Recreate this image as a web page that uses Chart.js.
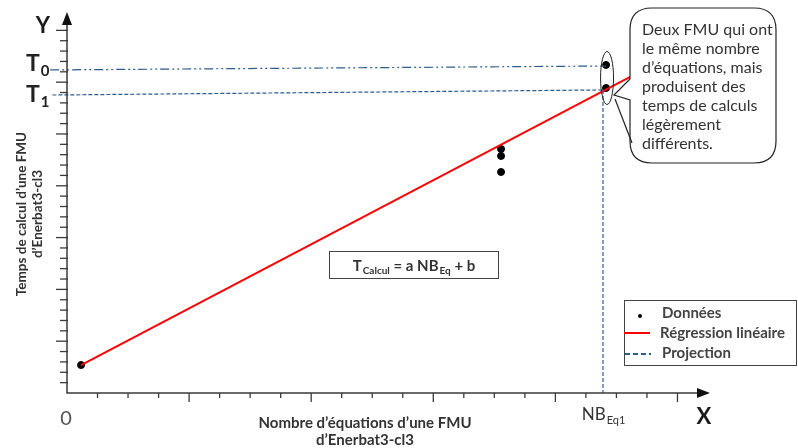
<!DOCTYPE html>
<html>
<head>
<meta charset="utf-8">
<script src="https://cdn.jsdelivr.net/npm/chart.js@4"></script>
<style>
  body { margin: 0; background: #fff; }
  #wrap { width: 798px; height: 448px; }
</style>
</head>
<body>
<div id="wrap"><canvas id="myChart"></canvas></div>
<script>
// points (x = number of equations, y = computing time), arbitrary units
const ptsX = [0.46, 14.22, 14.22, 14.22, 17.66, 17.66];
const ptsY = [2.7, 23.55, 22.88, 21.33, 31.66, 29.44];
// regression line
const regX = [0.46, 18.45];
const regY = [2.7, 30.5];
// projection lines
const t0X = [-0.55, 17.66];
const t0Y = [31.18, 31.56];
const t1X = [-0.48, 17.56];
const t1Y = [28.76, 29.25];
const projX = [17.56, 17.56];
const projY = [29.25, 0];

const legendLabels = ['Données', 'Régression linéaire', 'Projection'];
const calloutLines = ['Deux FMU qui ont', 'le même nombre', 'd\u2019équations, mais',
  'produisent des', 'temps de calculs', 'légèrement', 'différents.'];
const xTitle = ['Nombre d\u2019équations d\u2019une FMU', 'd\u2019Enerbat3-cl3'];
const yTitle = ['Temps de calcul d\u2019une FMU', 'd\u2019Enerbat3-cl3'];

const blue = '#2f5d8a';
const FONT = 'Lato, "Open Sans", sans-serif';

const toXY = (xs, ys) => xs.map((x, i) => ({x: x, y: ys[i]}));

function subWidth(ctx, main, sub, size, subSize, weight) {
  ctx.font = weight + ' ' + size + 'px ' + FONT;
  const w1 = ctx.measureText(main).width;
  ctx.font = weight + ' ' + subSize + 'px ' + FONT;
  return w1 + ctx.measureText(sub).width + 1;
}

function subText(ctx, x, y, main, sub, size, subSize, weight, color, align) {
  ctx.font = weight + ' ' + size + 'px ' + FONT;
  const w1 = ctx.measureText(main).width;
  ctx.font = weight + ' ' + subSize + 'px ' + FONT;
  const w2 = ctx.measureText(sub).width;
  let sx = x;
  if (align === 'center') sx = x - (w1 + w2) / 2;
  ctx.fillStyle = color;
  ctx.textAlign = 'left';
  ctx.textBaseline = 'alphabetic';
  ctx.font = weight + ' ' + size + 'px ' + FONT;
  ctx.fillText(main, sx, y);
  ctx.font = weight + ' ' + subSize + 'px ' + FONT;
  ctx.fillText(sub, sx + w1 + 1, y + size * 0.22);
  return sx + w1 + w2 + 1;
}

const decor = {
  id: 'decor',
  afterDraw(chart) {
    const ctx = chart.ctx;
    const xs = chart.scales.x, ys = chart.scales.y;
    const x0 = xs.getPixelForValue(0), y0 = ys.getPixelForValue(0);
    ctx.save();
    ctx.strokeStyle = '#3a3a3a';
    ctx.fillStyle = '#111';
    ctx.lineWidth = 1.5;
    // axes
    ctx.beginPath();
    ctx.moveTo(x0, ys.top + 4); ctx.lineTo(x0, y0);
    ctx.lineTo(xs.right - 6, y0);
    ctx.stroke();
    ctx.beginPath();
    ctx.moveTo(x0, ys.top - 8); ctx.lineTo(x0 - 5, ys.top + 5); ctx.lineTo(x0 + 5, ys.top + 5); ctx.closePath();
    ctx.fill();
    ctx.beginPath();
    ctx.moveTo(xs.right + 2, y0); ctx.lineTo(xs.right - 11, y0 - 5); ctx.lineTo(xs.right - 11, y0 + 5); ctx.closePath();
    ctx.fill();
    // tick marks
    ctx.lineWidth = 1.3;
    xs.ticks.forEach(t => {
      if (t.value <= 0 || t.value > 20) return;
      const px = xs.getPixelForValue(t.value);
      const len = t.value % 4 === 0 ? 9 : 5;
      ctx.beginPath(); ctx.moveTo(px, y0); ctx.lineTo(px, y0 + len); ctx.stroke();
    });
    ys.ticks.forEach(t => {
      if (t.value <= 0 || t.value > 35) return;
      const py = ys.getPixelForValue(t.value);
      const len = t.value % 5 === 0 ? 11 : 7;
      ctx.beginPath(); ctx.moveTo(x0 - len, py); ctx.lineTo(x0 + 1, py); ctx.stroke();
    });

    // axis letters
    ctx.fillStyle = '#1a1a1a';
    ctx.textAlign = 'center';
    ctx.textBaseline = 'alphabetic';
    ctx.font = 'bold 22px ' + FONT;
    ctx.fillText('Y', 43, 33);
    ctx.fillText('X', 704, 424);
    ctx.font = '20px ' + FONT;
    ctx.fillStyle = '#555';
    ctx.fillText('0', x0 - 1, 425);
    subText(ctx, 26, 71, 'T', '0', 23, 15, 'bold', '#222', 'left');
    subText(ctx, 26, 102, 'T', '1', 23, 15, 'bold', '#222', 'left');
    subText(ctx, 603, 420, 'NB', 'Eq1', 17, 11, '400', '#333', 'center');

    // axis titles
    ctx.fillStyle = '#333';
    ctx.font = 'bold 15px ' + FONT;
    ctx.textAlign = 'center';
    ctx.fillText(xTitle[0], 365, 428);
    ctx.fillText(xTitle[1], 365, 445);
    ctx.font = 'bold 13.5px ' + FONT;
    ctx.save();
    ctx.translate(26, 214);
    ctx.rotate(-Math.PI / 2);
    ctx.fillText(yTitle[0], 0, 0);
    ctx.fillText(yTitle[1], 0, 16);
    ctx.restore();

    // ellipse around the two points
    ctx.strokeStyle = '#222';
    ctx.lineWidth = 1;
    ctx.beginPath();
    ctx.ellipse(xs.getPixelForValue(ptsX[4]) + 1, 78, 6.5, 26.5, 0, 0, Math.PI * 2);
    ctx.stroke();

    // callout
    const bx = 630, by = 8, bw = 146, bh = 155, r = 22;
    ctx.beginPath();
    ctx.moveTo(bx + r, by);
    ctx.lineTo(bx + bw - r, by); ctx.quadraticCurveTo(bx + bw, by, bx + bw, by + r);
    ctx.lineTo(bx + bw, by + bh - r); ctx.quadraticCurveTo(bx + bw, by + bh, bx + bw - r, by + bh);
    ctx.lineTo(bx + r, by + bh); ctx.quadraticCurveTo(bx, by + bh, bx, by + bh - r);
    ctx.lineTo(bx, 100);
    ctx.lineTo(614, 95);
    ctx.lineTo(bx, 79);
    ctx.lineTo(bx, by + r); ctx.quadraticCurveTo(bx, by, bx + r, by);
    ctx.closePath();
    ctx.fillStyle = '#fff';
    ctx.fill();
    ctx.strokeStyle = '#222';
    ctx.lineWidth = 1.2;
    ctx.stroke();
    ctx.beginPath(); ctx.moveTo(615, 99); ctx.lineTo(632, 143); ctx.stroke();
    ctx.fillStyle = '#333';
    ctx.font = '16px ' + FONT;
    ctx.textAlign = 'left';
    calloutLines.forEach((l, i) => ctx.fillText(l, 642, 35 + i * 19));

    // equation box
    ctx.strokeStyle = '#444';
    ctx.lineWidth = 1;
    ctx.strokeRect(329.5, 251.5, 169, 27);
    ctx.font = 'bold 15px ' + FONT;
    const wEq = subWidth(ctx, 'T', 'Calcul', 15, 10, 'bold') + subWidth(ctx, 'NB', 'Eq', 15, 10, 'bold')
      + (ctx.font = 'bold 15px ' + FONT, ctx.measureText(' = a ').width + ctx.measureText(' + b').width);
    let ex = subText(ctx, 414 - wEq / 2, 271, 'T', 'Calcul', 15, 10, 'bold', '#333', 'left');
    ctx.font = 'bold 15px ' + FONT;
    ctx.fillText(' = a ', ex, 271);
    ex += ctx.measureText(' = a ').width;
    ex = subText(ctx, ex, 271, 'NB', 'Eq', 15, 10, 'bold', '#333', 'left');
    ctx.font = 'bold 15px ' + FONT;
    ctx.fillText(' + b', ex, 271);

    // legend
    ctx.strokeStyle = '#444';
    ctx.strokeRect(624.5, 300.5, 172, 65);
    ctx.fillStyle = '#000';
    ctx.beginPath(); ctx.arc(640, 316, 2, 0, Math.PI * 2); ctx.fill();
    ctx.strokeStyle = '#ff0000'; ctx.lineWidth = 2;
    ctx.beginPath(); ctx.moveTo(624, 333); ctx.lineTo(650, 333); ctx.stroke();
    ctx.strokeStyle = blue; ctx.lineWidth = 2; ctx.setLineDash([5, 3]);
    ctx.beginPath(); ctx.moveTo(625, 354); ctx.lineTo(651, 354); ctx.stroke();
    ctx.setLineDash([]);
    ctx.fillStyle = '#444';
    ctx.font = 'bold 15px ' + FONT;
    ctx.fillText(legendLabels[0], 662, 318);
    ctx.fillText(legendLabels[1], 660, 338);
    ctx.fillText(legendLabels[2], 662, 358);
    ctx.restore();
  }
};

new Chart(document.getElementById('myChart'), {
  type: 'scatter',
  data: {
    datasets: [
      {
        label: legendLabels[2] + ' T0',
        data: toXY(t0X, t0Y),
        showLine: true, borderColor: blue, borderWidth: 1.2,
        borderDash: [9, 3, 2, 3, 2, 3], pointRadius: 0, clip: false
      },
      {
        label: legendLabels[2] + ' T1',
        data: toXY(t1X, t1Y),
        showLine: true, borderColor: blue, borderWidth: 1.2,
        borderDash: [4, 2], pointRadius: 0, clip: false
      },
      {
        label: legendLabels[2],
        data: toXY(projX, projY),
        showLine: true, borderColor: blue, borderWidth: 1.2,
        borderDash: [4, 2], pointRadius: 0, clip: false
      },
      {
        label: legendLabels[1],
        data: toXY(regX, regY),
        showLine: true, borderColor: '#ff0000', borderWidth: 2,
        pointRadius: 0
      },
      {
        label: legendLabels[0],
        data: toXY(ptsX, ptsY),
        pointRadius: 3.5, pointBackgroundColor: '#000', pointBorderColor: '#000'
      }
    ]
  },
  options: {
    responsive: true,
    maintainAspectRatio: false,
    animation: false,
    layout: { padding: { left: 67, top: 20, right: 90, bottom: 55 } },
    plugins: { legend: { display: false }, tooltip: { enabled: false } },
    scales: {
      x: { type: 'linear', display: false, min: 0, max: 21,
           ticks: { stepSize: 1, maxTicksLimit: 100, font: { size: 4 } } },
      y: { type: 'linear', display: false, min: 0, max: 36,
           ticks: { stepSize: 1, maxTicksLimit: 100, font: { size: 4 } } }
    }
  },
  plugins: [decor]
});
</script>
</body>
</html>
